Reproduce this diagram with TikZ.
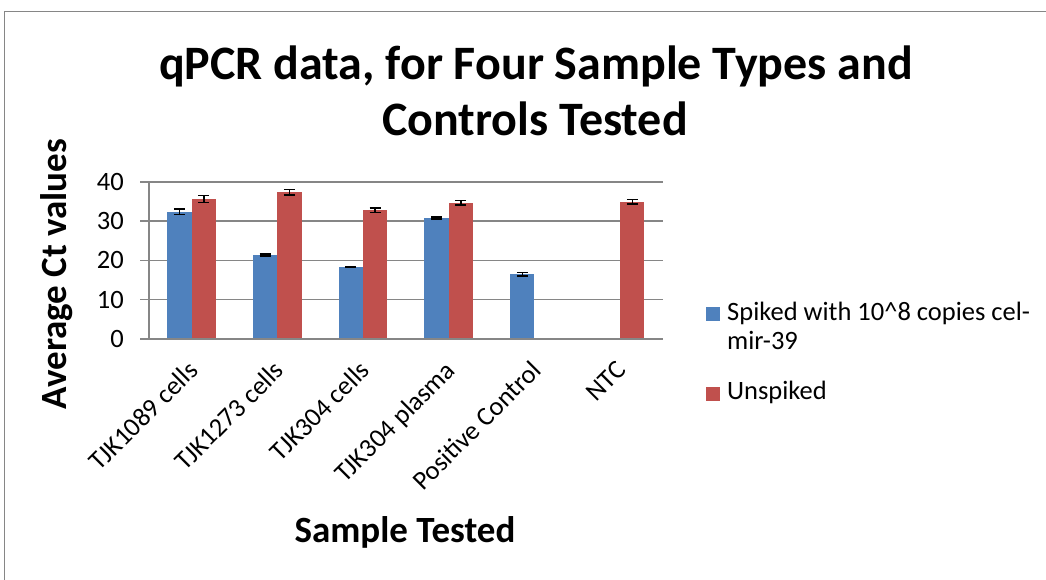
\documentclass[tikz,border=0pt]{standalone}
\usepackage{fontspec}
\setmainfont{Carlito}
\definecolor{xblue}{HTML}{4F81BD}
\definecolor{xred}{HTML}{C0504D}
\definecolor{xgrid}{HTML}{868686}
\newcommand\mkbar[4]{% left x, value, error, colour
  \fill[#4] (#1,338.7) rectangle ({#1+24.3},{338.7-#2*3.918});
  \draw[errbar] ({#1+12.15},{338.7-(#2-#3)*3.918}) -- ({#1+12.15},{338.7-(#2+#3)*3.918});
  \draw[errbar] ({#1+6.65},{338.7-(#2-#3)*3.918}) -- ({#1+17.65},{338.7-(#2-#3)*3.918});
  \draw[errbar] ({#1+6.65},{338.7-(#2+#3)*3.918}) -- ({#1+17.65},{338.7-(#2+#3)*3.918});
}
\begin{document}
\begin{tikzpicture}[x=1pt,y=-1pt,
  gridline/.style={xgrid,line width=1.6pt},
  errbar/.style={black,line width=1.5pt},
  maintitle/.style={inner sep=0pt,font=\fontsize{48}{56}\selectfont\bfseries},
  titletext/.style={inner sep=0pt,font=\fontsize{37}{44}\selectfont\bfseries},
  bodytext/.style={inner sep=0pt,font=\fontsize{26.5}{30}\selectfont},
  catlabel/.style={bodytext,anchor=north east,rotate=45},
  ticklabel/.style={bodytext,anchor=east}]
\useasboundingbox (0,0) rectangle (1046,580);
\fill[white] (0,0) rectangle (1046,580);
\draw[xgrid,line width=1.3pt] (4.5,580) -- (4.5,11.5) -- (1046,11.5);
% gridlines
\foreach \v in {1,2,3,4}{
  \draw[gridline] (140,{338.7-\v*39.18}) -- (663,{338.7-\v*39.18});
}
% bars
\mkbar{167.3}{32.4}{0.7}{xblue}
\mkbar{191.6}{35.6}{0.9}{xred}
\mkbar{253.0}{21.35}{0.25}{xblue}
\mkbar{277.3}{37.35}{0.7}{xred}
\mkbar{338.7}{18.3}{0.15}{xblue}
\mkbar{363.0}{32.8}{0.6}{xred}
\mkbar{424.4}{30.8}{0.2}{xblue}
\mkbar{448.7}{34.7}{0.6}{xred}
\mkbar{510.1}{16.4}{0.45}{xblue}
\mkbar{620.1}{34.95}{0.6}{xred}
% axes
\draw[gridline] (148.7,182) -- (148.7,338.7);
\draw[gridline] (140,338.7) -- (663,338.7);
% tick labels
\node[ticklabel] (t0) at (124,338.7) {0};
\node[ticklabel] (t10) at (124,299.5) {10};
\node[ticklabel] (t20) at (124,260.3) {20};
\node[ticklabel] (t30) at (124,221.2) {30};
\node[ticklabel] (t40) at (124,182.0) {40};
% category labels
\node[catlabel] (c1) at (186.6,359) {TJK1089 cells};
\node[catlabel] (c2) at (272.3,359) {TJK1273 cells};
\node[catlabel] (c3) at (358.0,359) {TJK304 cells};
\node[catlabel] (c4) at (443.7,359) {TJK304 plasma};
\node[catlabel] (c5) at (529.4,359) {Positive Control};
\node[catlabel] (c6) at (615.1,359) {NTC};
% titles
\node[maintitle,anchor=base] (title1) at (536,80) {qPCR data, for Four Sample Types and};
\node[maintitle,anchor=base] (title2) at (535,136) {Controls Tested};
\node[titletext,anchor=base,rotate=90] (ytitle) at (66,274) {Average Ct values};
\node[titletext,anchor=base] (xtitle) at (405,542) {Sample Tested};
% legend
\fill[xblue] (706,307) rectangle (720,321);
\fill[xred] (706,387) rectangle (720,401);
\node[bodytext,anchor=base west] (leg1a) at (727,320) {Spiked with 10\^{}8 copies cel-};
\node[bodytext,anchor=base west] (leg1b) at (727,349) {mir-39};
\node[bodytext,anchor=base west] (leg2) at (727,399) {Unspiked};
\end{tikzpicture}
\end{document}
